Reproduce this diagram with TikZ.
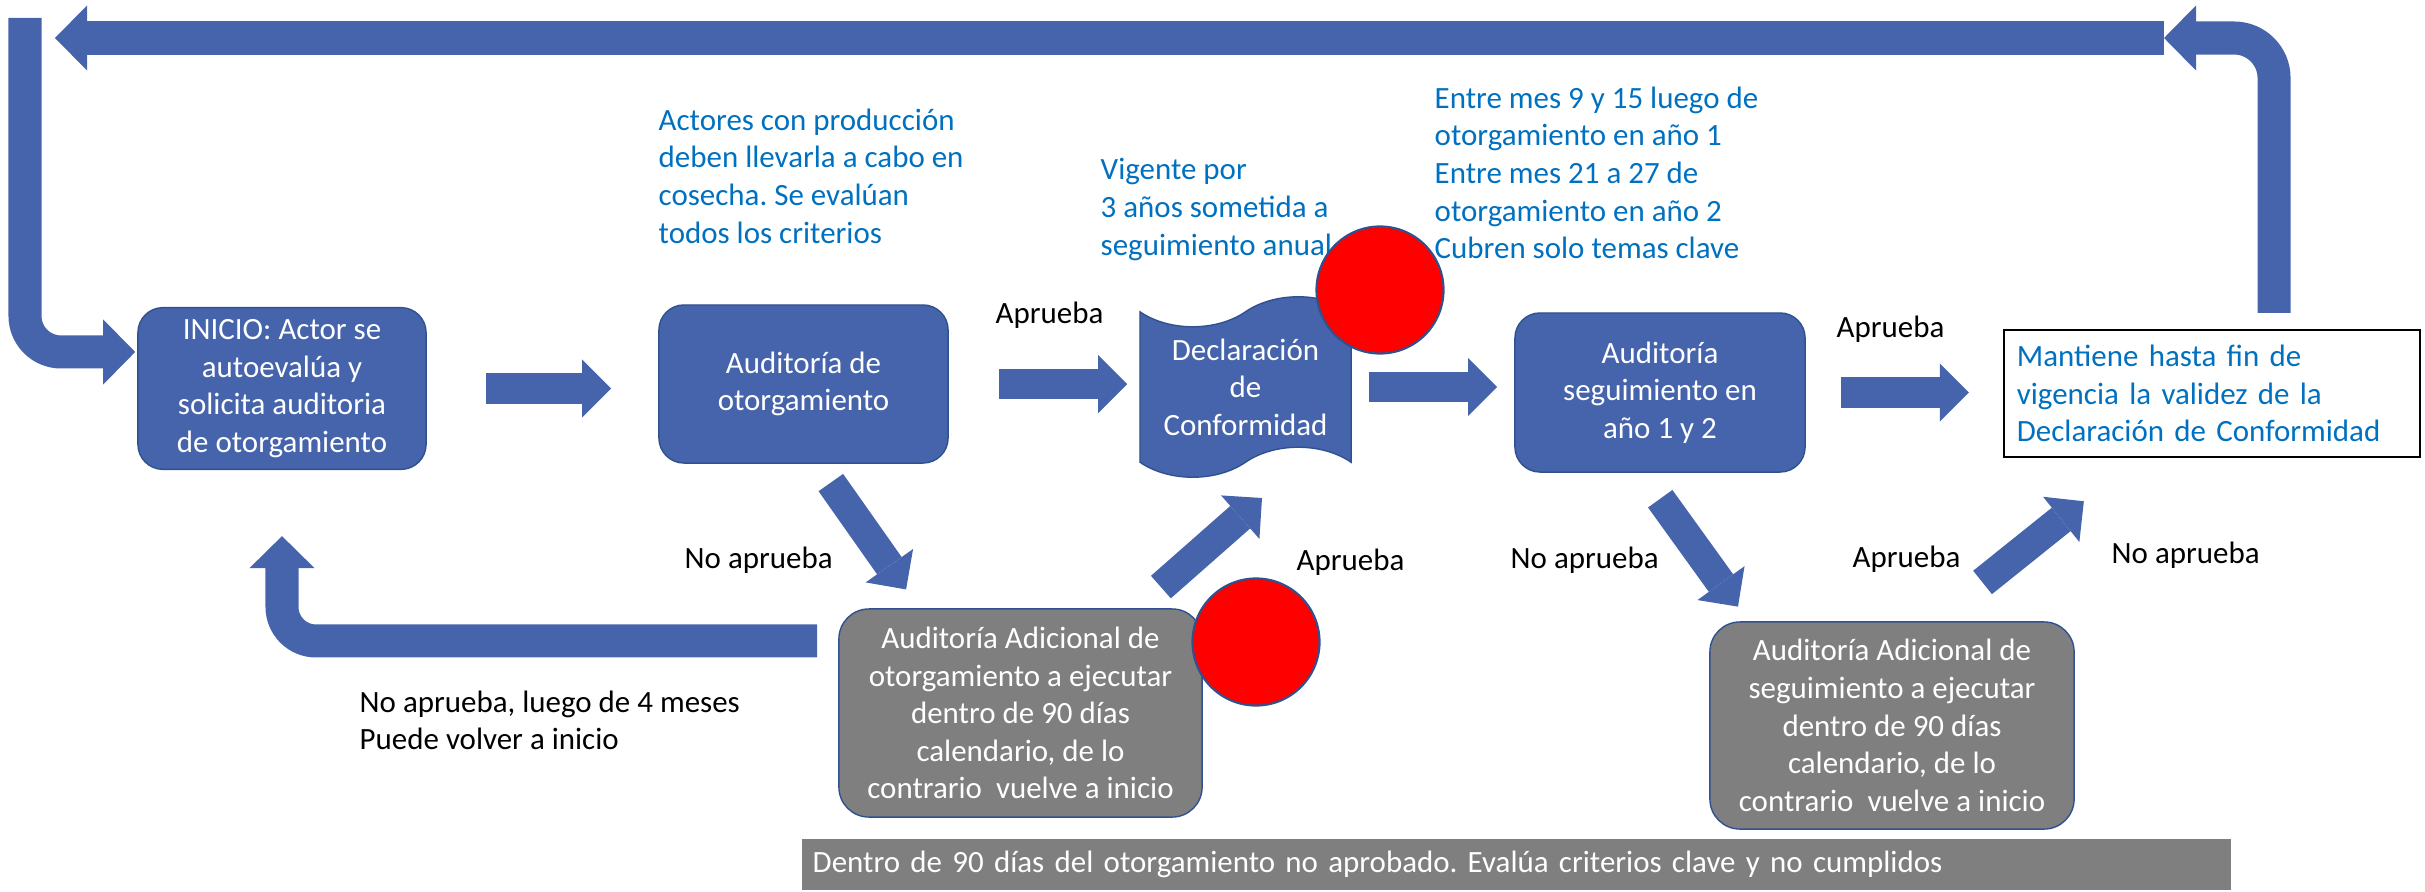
\documentclass[tikz,border=0pt]{standalone}
\usepackage{fontspec}
\setmainfont{Carlito}
\usetikzlibrary{arrows.meta,shapes.symbols,calc}

\definecolor{boxblue}{RGB}{70,100,172}
\definecolor{edgeblue}{RGB}{47,82,143}
\definecolor{boxgray}{RGB}{127,127,127}
\definecolor{noteblue}{RGB}{0,112,192}
\definecolor{dotred}{RGB}{255,0,0}

\frenchspacing

\begin{document}
\begin{tikzpicture}[
        x=0.01cm, y=-0.01cm,
        every node/.style={font=\fontsize{8.8}{10.7}\selectfont},
        stepbox/.style={
            rectangle,
            draw=edgeblue,
            fill=boxblue,
            rounded corners=0.25cm,
            minimum width=2.89cm,
            minimum height=1.58cm,
            align=center,
            text=white
        },
        extrabox/.style={
            rectangle,
            draw=edgeblue,
            fill=boxgray,
            rounded corners=0.3cm,
            minimum width=3.63cm,
            minimum height=2.08cm,
            align=center,
            text=white
        },
        tapebox/.style={
            tape,
            draw=edgeblue,
            fill=boxblue,
            minimum width=2.11cm,
            minimum height=1.5cm,
            tape bend height=0.3cm,
            align=center,
            text=white
        },
        reddot/.style={
            circle,
            draw=edgeblue,
            fill=dotred,
            line width=0.6pt,
            minimum size=1.27cm,
            inner sep=0pt
        },
        note/.style={
            anchor=north west,
            align=left,
            inner sep=0pt,
            text=noteblue
        },
        answer/.style={
            anchor=base west,
            inner sep=0pt
        },
        arrow/.style={
            draw=boxblue,
            line width=0.3cm,
            -{Triangle[length=0.29cm, width=0.58cm, line width=0pt]}
        },
        bigarrow/.style={
            draw=boxblue,
            line width=0.33cm,
            -{Triangle[length=0.32cm, width=0.65cm, line width=0pt]}
        }
    ]
    \useasboundingbox (0,0) rectangle (2425,891);

    % --- Notes above the flow ---
    \node[note] (n1) at (658,108) {Actores con producción\\deben llevarla a cabo en\\cosecha. Se evalúan\\todos los criterios};
    \node[note] (n2) at (1100,158) {Vigente por\\3 años sometida a\\seguimiento anual};
    \node[note] (n3) at (1434,86) {Entre mes 9 y 15 luego de\\otorgamiento en año 1\\Entre mes 21 a 27 de\\otorgamiento en año 2\\Cubren solo temas clave};

    % --- Main row ---
    \node[stepbox, minimum width=2.88cm, minimum height=1.57cm] (ini) at (282,388.5) {INICIO: Actor se\\autoevalúa y\\solicita auditoria\\de otorgamiento};
    \node[stepbox] (aud) at (803.5,384) {Auditoría de\\otorgamiento};
    \node[tapebox] (decl) at (1245.5,387) {Declaración\\de\\Conformidad};
    \node[stepbox, minimum width=2.90cm, minimum height=1.59cm] (seg) at (1660,392.5) {Auditoría\\seguimiento en\\año 1 y 2};
    \node[rectangle, draw=black, fill=white, line width=0.6pt, minimum height=1.27cm,
          text width=3.9cm, inner xsep=0.13cm, align=left, text=noteblue] (mant) at (2212,393.5)
          {Mantiene hasta fin de\\vigencia la validez de la\\Declaración de Conformidad};

    % --- Additional audits ---
    \node[extrabox] (adic1) at (1020.5,713) {Auditoría Adicional de\\otorgamiento a ejecutar\\dentro de 90 días\\calendario, de lo\\contrario\ \ vuelve a inicio};
    \node[extrabox, minimum width=3.64cm, minimum height=2.07cm] (adic2) at (1892,725.5) {Auditoría Adicional de\\seguimiento a ejecutar\\dentro de 90 días\\calendario, de lo\\contrario\ \ vuelve a inicio};
    \node[rectangle, fill=boxgray, anchor=west, minimum width=14.28cm, minimum height=0.51cm,
          text width=14.06cm, inner xsep=0.11cm, align=left, text=white] (bar) at (801,864.5)
          {Dentro de 90 días del otorgamiento no aprobado. Evalúa criterios clave y no cumplidos};

    \node[reddot] (dot1) at (1380,290) {};
    \node[reddot] (dot2) at (1256,642) {};

    % Labels
    \node[answer] (ap1) at (995,323) {Aprueba};
    \node[answer] (ap2) at (1836,337) {Aprueba};
    \node[answer] (na1) at (684,568) {No aprueba};
    \node[answer] (ap3) at (1296,570) {Aprueba};
    \node[answer] (na3) at (1510,568) {No aprueba};
    \node[answer] (ap4) at (1852,567) {Aprueba};
    \node[answer] (na4) at (2111,563) {No aprueba};
    \node[answer, anchor=north west, align=left] (na2) at (359,690) {No aprueba, luego de 4 meses\\Puede volver a inicio};

    % Free ends
    \coordinate (topR) at (2164,38);
    \coordinate (topL) at (55,38);
    \coordinate (cornerL) at (25,18);
    \coordinate (upA) at (1262,498);

    % Relationships
    \draw[arrow, shorten <=0.59cm, shorten >=0.47cm] (ini.east) -- (ini.east -| aud.west);
    \draw[arrow, shorten <=0.50cm, shorten >=0.12cm] (aud.east) -- (aud.east -| decl.west);
    \draw[arrow, shorten <=0.17cm, shorten >=0.17cm] (decl.east) -- (decl.east -| seg.west);
    \draw[arrow, shorten <=0.35cm, shorten >=0.34cm] (seg.east) -- (seg.east -| mant.west);

    \draw[arrow, shorten <=0.23cm, shorten >=0.23cm] (aud.-80) -- (adic1.134);
    \draw[arrow, shorten <=0.32cm] (adic1.42) -- (upA);
    \draw[arrow, shorten <=0.32cm, shorten >=0.18cm] (seg.-103) -- (adic2.144);
    \draw[arrow, shorten <=0.62cm, shorten >=0.69cm] (adic2.68) -- (mant.-139);

    % Loops back to the start
    \draw[bigarrow, rounded corners=0.34cm, shorten <=0.21cm, shorten >=0.66cm] ([yshift=0.72cm]adic1.west) -| (ini.south);
    \draw[bigarrow, rounded corners=0.4cm, shorten <=0.16cm] ([xshift=0.62cm]mant.north) |- (topR);
    \draw[bigarrow] (topR) -- (topL);
    \draw[bigarrow, rounded corners=0.36cm, shorten >=0.02cm] (cornerL) |- ([yshift=0.365cm]ini.west);

\end{tikzpicture}
\end{document}
